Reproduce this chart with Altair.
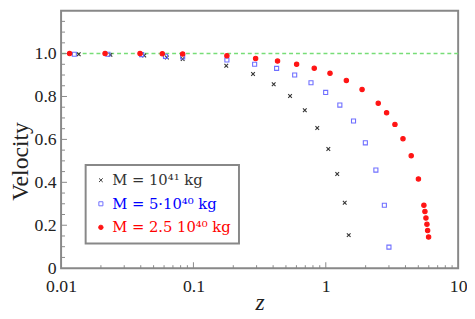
import altair as alt
import pandas as pd

series_names = ["M = 10⁴¹ kg", "M = 5·10⁴⁰ kg", "M = 2.5 10⁴⁰ kg"]
series_colors = ["#333333", "#6f6fff", "#ff1414"]
series_fills = ["transparent", "transparent", "#ff1414"]
series_shapes = ["M-1,-1L1,1M-1,1L1,-1", "square", "circle"]

z_a = [0.0136, 0.0236, 0.0425, 0.063, 0.0829, 0.177, 0.282, 0.404, 0.537, 0.694,
       0.862, 1.045, 1.22, 1.39, 1.49]
v_a = [0.997, 0.994, 0.991, 0.982, 0.975, 0.943, 0.905, 0.857, 0.802, 0.736,
       0.653, 0.555, 0.439, 0.305, 0.154]
z_b = [0.0126, 0.0226, 0.0406, 0.0615, 0.0829, 0.179, 0.290, 0.425, 0.582, 0.773,
       0.998, 1.277, 1.62, 1.99, 2.39, 2.77, 3.00]
v_b = [0.997, 0.997, 0.995, 0.987, 0.984, 0.970, 0.950, 0.931, 0.900, 0.864,
       0.819, 0.760, 0.686, 0.584, 0.457, 0.293, 0.098]
z_c = [0.0116, 0.0215, 0.0395, 0.0582, 0.0829, 0.179, 0.295, 0.432, 0.602, 0.818,
       1.076, 1.43, 1.88, 2.49, 2.88, 3.33, 3.83, 4.42, 5.01, 5.51, 5.61, 5.71,
       5.81, 5.88, 5.98]
v_c = [1.0, 1.0, 1.0, 0.999, 0.998, 0.990, 0.977, 0.965, 0.950, 0.932, 0.908,
       0.875, 0.833, 0.768, 0.724, 0.670, 0.603, 0.524, 0.416, 0.293, 0.264,
       0.234, 0.205, 0.175, 0.145]

x_labels = [0.01, 0.1, 1, 10]
y_labels = [0, 0.2, 0.4, 0.6, 0.8, 1.0]
x_major_ticks = [0.1, 1]
x_minor_ticks = [0.02, 0.03, 0.04, 0.05, 0.06, 0.07, 0.08, 0.09,
                 0.2, 0.3, 0.4, 0.5, 0.6, 0.7, 0.8, 0.9,
                 2, 3, 4, 5, 6, 7, 8, 9]
y_major_ticks = [0.2, 0.4, 0.6, 0.8, 1.0]
y_minor_ticks = [0.05, 0.1, 0.15, 0.25, 0.3, 0.35, 0.45, 0.5, 0.55, 0.65, 0.7,
                 0.75, 0.85, 0.9, 0.95, 1.05, 1.1, 1.15]
reference_level = 1.0

rows = []
for name, zs, vs in zip(series_names, [z_a, z_b, z_c], [v_a, v_b, v_c]):
    for z, v in zip(zs, vs):
        rows.append({"z": z, "v": v, "series": name})
df = pd.DataFrame(rows)

W, H = 404, 262
FONT = "Liberation Serif"
FRAME = "#888888"

xscale = alt.Scale(type="log", domain=[0.01, 10], nice=False)
yscale = alt.Scale(domain=[0, 1.2], nice=False, zero=False)

xaxis = alt.Axis(values=x_labels, format="~g", title="z", ticks=False, domain=False,
                 grid=False, labelPadding=10, labelFlush=False,
                 titleY=42, titleBaseline="alphabetic")
yaxis = alt.Axis(values=y_labels, labelExpr="datum.value == 0 ? '0' : format(datum.value, '.1f')",
                 title="Velocity", ticks=False, domain=False, grid=False,
                 labelPadding=5, titleY=153)

X = alt.X("z:Q", scale=xscale, axis=xaxis)
Y = alt.Y("v:Q", scale=yscale, axis=yaxis)

ref_line = alt.Chart(pd.DataFrame({"v": [reference_level]})).mark_rule(
    color="#77dd77", strokeDash=[4, 3], strokeWidth=1.5
).encode(y=Y)

label_color_expr = (
    f"datum.value === '{series_names[0]}' ? '{series_colors[0]}' : "
    f"datum.value === '{series_names[1]}' ? '#0000ff' : '#ff0000'"
)

points = alt.Chart(df).mark_point(strokeWidth=1.1, opacity=1).encode(
    x=X,
    y=Y,
    stroke=alt.Stroke("series:N", scale=alt.Scale(domain=series_names, range=series_colors),
                      legend=alt.Legend(title=None, orient="none", legendX=25, legendY=157,
                                        labelFont="DejaVu Serif", labelFontSize=15,
                                        labelColor={"expr": label_color_expr},
                                        strokeColor=FRAME, padding=8, rowPadding=8,
                                        symbolStrokeWidth=1, labelLimit=300)),
    fill=alt.Fill("series:N", scale=alt.Scale(domain=series_names, range=series_fills)),
    shape=alt.Shape("series:N", scale=alt.Scale(domain=series_names, range=series_shapes)),
    size=alt.Size("series:N", scale=alt.Scale(domain=series_names, range=[14, 20, 17])),
)

ytick_major = alt.Chart(pd.DataFrame({"v": y_major_ticks})).mark_rule(color=FRAME).encode(
    y=Y, x=alt.value(0), x2=alt.value(6))
ytick_minor = alt.Chart(pd.DataFrame({"v": y_minor_ticks})).mark_rule(color=FRAME).encode(
    y=Y, x=alt.value(0), x2=alt.value(4))
xtick_major = alt.Chart(pd.DataFrame({"z": x_major_ticks})).mark_rule(color=FRAME).encode(
    x=X, y=alt.value(H), y2=alt.value(H - 6))
xtick_minor = alt.Chart(pd.DataFrame({"z": x_minor_ticks})).mark_rule(color=FRAME).encode(
    x=X, y=alt.value(H), y2=alt.value(H - 3))

chart = alt.layer(ref_line, ytick_major, ytick_minor, xtick_major, xtick_minor, points).properties(
    width=W, height=H, padding={"left": 0, "top": 0, "right": 0, "bottom": 0}
).configure_view(
    stroke=FRAME, strokeWidth=2
).configure_axis(
    labelFont=FONT, titleFont=FONT, labelColor="#222222", titleColor="#222222",
    labelFontSize=18, titleFontWeight="normal"
).configure_axisX(
    titleFontSize=24, titleFontStyle="italic", titlePadding=0
).configure_axisY(
    titleFontSize=24, titlePadding=2
).configure_legend(
    strokeWidth=2
)

chart.save("out.html", embed_options={"renderer": "svg", "actions": False})
